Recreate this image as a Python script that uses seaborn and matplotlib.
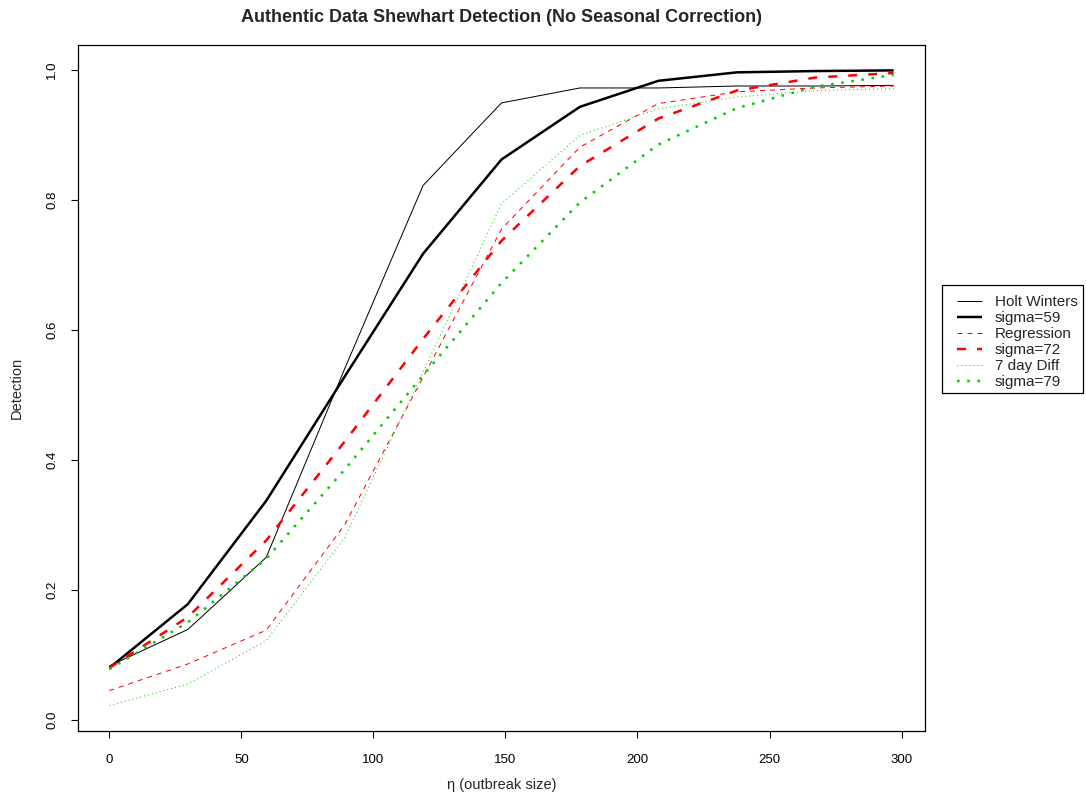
import matplotlib
matplotlib.use("Agg")
import matplotlib.pyplot as plt
from matplotlib.patches import Rectangle
import numpy as np
import pandas as pd
import seaborn as sns

# Outbreak sizes (eta) at which detection was evaluated
eta = [0, 29.7, 59.4, 89.1, 118.8, 148.5, 178.2, 207.9, 237.6, 267.3, 297]

# Detection rates per method and the matching fitted curves
holt_winters = [0.083, 0.139, 0.250, 0.540, 0.822, 0.949, 0.972, 0.972, 0.975, 0.975, 0.976]
sigma_59 = [0.080, 0.178, 0.337, 0.528, 0.717, 0.862, 0.943, 0.983, 0.996, 0.998, 0.999]
regression = [0.045, 0.086, 0.138, 0.300, 0.527, 0.755, 0.881, 0.948, 0.966, 0.972, 0.975]
sigma_72 = [0.080, 0.158, 0.276, 0.428, 0.586, 0.737, 0.852, 0.925, 0.968, 0.988, 0.995]
seven_day_diff = [0.022, 0.055, 0.122, 0.280, 0.535, 0.794, 0.899, 0.940, 0.958, 0.968, 0.971]
sigma_79 = [0.078, 0.150, 0.248, 0.385, 0.530, 0.672, 0.796, 0.885, 0.941, 0.974, 0.992]

series_labels = ["Holt Winters", "sigma=59", "Regression", "sigma=72", "7 day Diff", "sigma=79"]
x_ticks = [0, 50, 100, 150, 200, 250, 300]
y_ticks = [0.0, 0.2, 0.4, 0.6, 0.8, 1.0]

sns.set_style("white")
plt.rcParams["font.family"] = ["Liberation Sans", "DejaVu Sans"]
plt.rcParams["lines.scale_dashes"] = False

DPI = 100
W, H = 1086, 796
fig = plt.figure(figsize=(W / DPI, H / DPI), dpi=DPI)
ax = fig.add_axes([78 / W, 1 - 731 / H, 847 / W, 686 / H])

px = 72.0 / DPI  # points per pixel
thin = 1.0 * px
thick = 2.5 * px
styles = [
    dict(color="black", linewidth=thin, linestyle="-"),
    dict(color="black", linewidth=thick, linestyle="-"),
    dict(color="#ff0000", linewidth=thin, linestyle=(0, (5 * px, 5 * px))),
    dict(color="#ff0000", linewidth=thick, linestyle=(0, (9 * px, 11 * px))),
    dict(color="#00cd00", linewidth=thin, linestyle=(0, (1 * px, 3 * px))),
    dict(color="#00cd00", linewidth=thick, linestyle=(0, (2.6 * px, 7.6 * px))),
]
all_series = [holt_winters, sigma_59, regression, sigma_72, seven_day_diff, sigma_79]

handles = []
for vals, lab, st in zip(all_series, series_labels, styles):
    df = pd.DataFrame({"eta": eta, "detection": vals})
    sns.lineplot(data=df, x="eta", y="detection", ax=ax, label=lab,
                 solid_capstyle="butt", dash_capstyle="butt", **st)
    handles.append(ax.get_lines()[-1])

# Axis ranges: data range padded by 4% on each side
all_vals = np.concatenate([np.asarray(v) for v in all_series])
xmin, xmax = min(eta), max(eta)
ymin, ymax = all_vals.min(), all_vals.max()
ax.set_xlim(xmin - 0.04 * (xmax - xmin), xmax + 0.04 * (xmax - xmin))
ax.set_ylim(ymin - 0.04 * (ymax - ymin), ymax + 0.04 * (ymax - ymin))

ax.set_xticks(x_ticks)
ax.set_xticklabels([str(t) for t in x_ticks])
ax.set_yticks(y_ticks)
ax.set_yticklabels([f"{t:.1f}" for t in y_ticks], rotation=90, va="center")
ax.tick_params(axis="both", direction="out", length=7 * px, width=0.8,
               color="black", labelsize=9.5, labelcolor="black")
ax.tick_params(axis="x", pad=16 * px)
ax.tick_params(axis="y", pad=13 * px)
ax.xaxis.set_ticks_position("bottom")
ax.yaxis.set_ticks_position("left")

for sp in ax.spines.values():
    sp.set_visible(True)
    sp.set_color("black")
    sp.set_linewidth(0.9)

ax.set_xlabel("η (outbreak size)", fontsize=10.5, va="center")
ax.xaxis.set_label_coords(0.5, (731 - 785) / 686)
ax.set_ylabel("Detection", fontsize=10.5, va="center")
ax.yaxis.set_label_coords((17 - 78) / 847, 0.5)

ax.set_title("Authentic Data Shewhart Detection (No Seasonal Correction)",
             fontsize=13, fontweight="bold", pad=23 * px)

# Legend outside the plot on the right, with a plain rectangular frame
leg = ax.legend(handles=handles, labels=series_labels, loc="upper left",
                bbox_to_anchor=(957 / W, 1 - 295 / H),
                bbox_transform=fig.transFigure, borderaxespad=0, borderpad=0,
                frameon=False, fontsize=11,
                handlelength=25 / 15.3, handletextpad=13 / 15.3,
                labelspacing=0.13)
fig.patches.append(Rectangle((942 / W, 1 - 393 / H), 141 / W, 108 / H,
                             transform=fig.transFigure, fill=False,
                             edgecolor="black", linewidth=0.9))

fig.savefig("out.png", dpi=DPI)
